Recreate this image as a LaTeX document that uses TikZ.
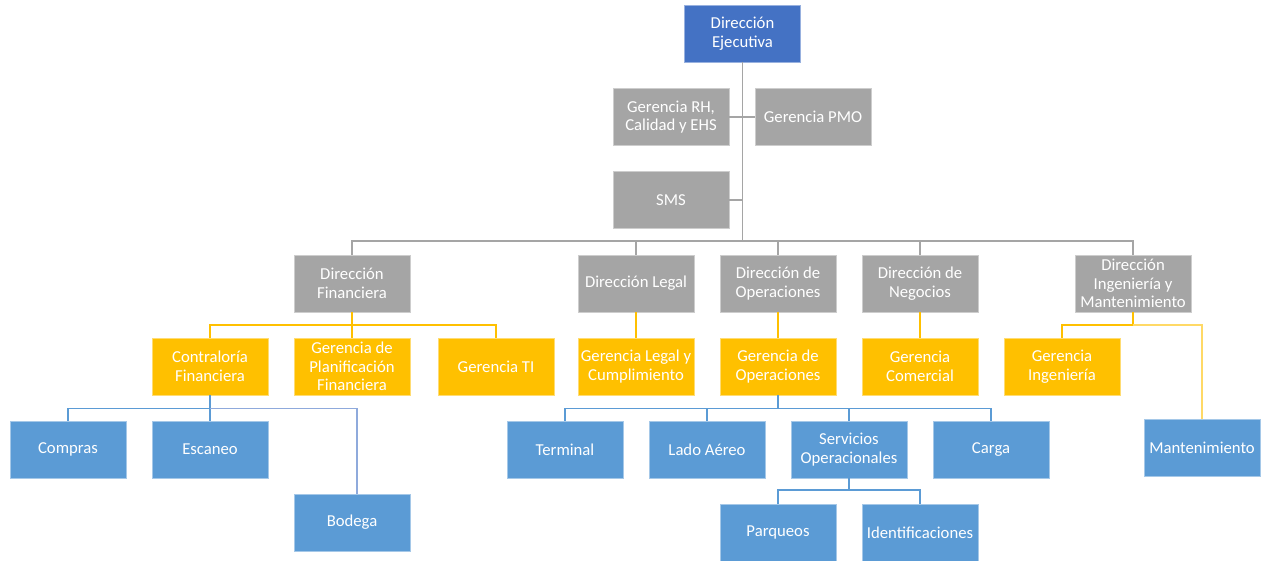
\documentclass[tikz,border=0pt]{standalone}
\usepackage{fontspec}
\setmainfont{Carlito}
\usepackage{tikz}
\usetikzlibrary{positioning,calc}
\definecolor{topblue} {HTML}{4472C4}
\definecolor{boxgray} {HTML}{A5A5A5}
\definecolor{boxyel}  {HTML}{FFC000}
\definecolor{boxblue} {HTML}{5B9BD5}
\definecolor{lineyel} {HTML}{FFD966}
\definecolor{lineblue}{HTML}{8FAADC}
\tikzset{
  orgbox/.style={fill=#1,draw=#1!55!white,line width=0.4pt,text=white,
    minimum width=23.2mm,minimum height=11.4mm,inner sep=1pt,align=center,
    font=\fontsize{9.5}{10.6}\selectfont},
  grayline/.style={draw=boxgray,line width=0.8pt},
  yelline/.style={draw=boxyel,line width=0.8pt},
  blueline/.style={draw=boxblue,line width=0.8pt}
}

\begin{document}
\begin{tikzpicture}[x=0.2mm,y=-0.2mm]
    \useasboundingbox (0,0) rectangle (1262,561);
    % top
    \node[orgbox=topblue] (dex) at (742.5,33.5) {Dirección\\Ejecutiva};
    \node[orgbox=boxgray] (grh) at (671,117) {Gerencia RH,\\Calidad y EHS};
    \node[orgbox=boxgray] (gpmo) at (813,117) {Gerencia PMO};
    \node[orgbox=boxgray] (sms) at (671,200) {SMS};
    % direcciones
    \node[orgbox=boxgray] (dfin) at (352,283.5) {Dirección\\Financiera};
    \node[orgbox=boxgray] (dleg) at (636,283.5) {Dirección Legal};
    \node[orgbox=boxgray] (dope) at (778,283.5) {Dirección de\\Operaciones};
    \node[orgbox=boxgray] (dneg) at (920,283.5) {Dirección de\\Negocios};
    \node[orgbox=boxgray] (ding) at (1133,283.5) {Dirección\\Ingeniería y\\Mantenimiento};
    % gerencias
    \node[orgbox=boxyel] (cfin) at (210,366.5) {Contraloría\\Financiera};
    \node[orgbox=boxyel] (gpla) at (352,366.5) {Gerencia de\\Planificación\\Financiera};
    \node[orgbox=boxyel] (gti) at (496,366.5) {Gerencia TI};
    \node[orgbox=boxyel] (gleg) at (636,366.5) {Gerencia Legal y\\Cumplimiento};
    \node[orgbox=boxyel] (gope) at (778,366.5) {Gerencia de\\Operaciones};
    \node[orgbox=boxyel] (gcom) at (920,366.5) {Gerencia\\Comercial};
    \node[orgbox=boxyel] (ging) at (1062,366.5) {Gerencia\\Ingeniería};
    % areas
    \node[orgbox=boxblue] (comp) at (68,449.5) {Compras};
    \node[orgbox=boxblue] (esca) at (210,449.5) {Escaneo};
    \node[orgbox=boxblue] (bode) at (352,522.5) {Bodega};
    \node[orgbox=boxblue] (term) at (565,449.5) {Terminal};
    \node[orgbox=boxblue] (lado) at (707,449.5) {Lado Aéreo};
    \node[orgbox=boxblue] (serv) at (849,449.5) {Servicios\\Operacionales};
    \node[orgbox=boxblue] (carg) at (991,449.5) {Carga};
    \node[orgbox=boxblue] (parq) at (778,532.5) {Parqueos};
    \node[orgbox=boxblue] (iden) at (920,532.5) {Identificaciones};
    \node[orgbox=boxblue] (mant) at (1202,448) {Mantenimiento};

    \coordinate (gbus) at (0,241);
    \coordinate (ybus) at (0,325);
    \coordinate (bbus) at (0,408.5);
    \coordinate (sbus) at (0,490);

    % gray connectors
    \draw[grayline] (dex.south) -- (dex.south |- gbus);
    \draw[grayline] (grh.east) -- (gpmo.west);
    \draw[grayline] (sms.east) -- (sms.east -| dex.south);
    \draw[grayline] (dfin.north) |- (ding.north |- gbus) -- (ding.north);
    \foreach \n in {dleg,dope,dneg}
      \draw[grayline] (\n.north) -- (\n.north |- gbus);

    % yellow connectors
    \draw[yelline] (dfin.south) -- (gpla.north);
    \draw[yelline] (cfin.north) |- (gti.north |- ybus) -- (gti.north);
    \draw[yelline] (dleg.south) -- (gleg.north);
    \draw[yelline] (dope.south) -- (gope.north);
    \draw[yelline] (dneg.south) -- (gcom.north);
    \draw[yelline] (ging.north) |- (ding.south |- ybus) -- (ding.south);
    \draw[draw=lineyel,line width=0.8pt] (ding.south |- ybus) -| (mant.north);

    % blue connectors
    \draw[blueline] (cfin.south) -- (esca.north);
    \draw[blueline] (comp.north) |- (esca.north |- bbus);
    \draw[draw=lineblue,line width=0.8pt] (esca.north |- bbus) -| ([xshift=1mm]bode.north);
    \draw[blueline] (gope.south) -- (gope.south |- bbus);
    \draw[blueline] (term.north) |- (carg.north |- bbus) -- (carg.north);
    \draw[blueline] (lado.north) -- (lado.north |- bbus);
    \draw[blueline] (serv.north) -- (serv.north |- bbus);
    \draw[blueline] (serv.south) -- (serv.south |- sbus);
    \draw[blueline] (parq.north) |- (iden.north |- sbus) -- (iden.north);
  \end{tikzpicture}
\end{document}
